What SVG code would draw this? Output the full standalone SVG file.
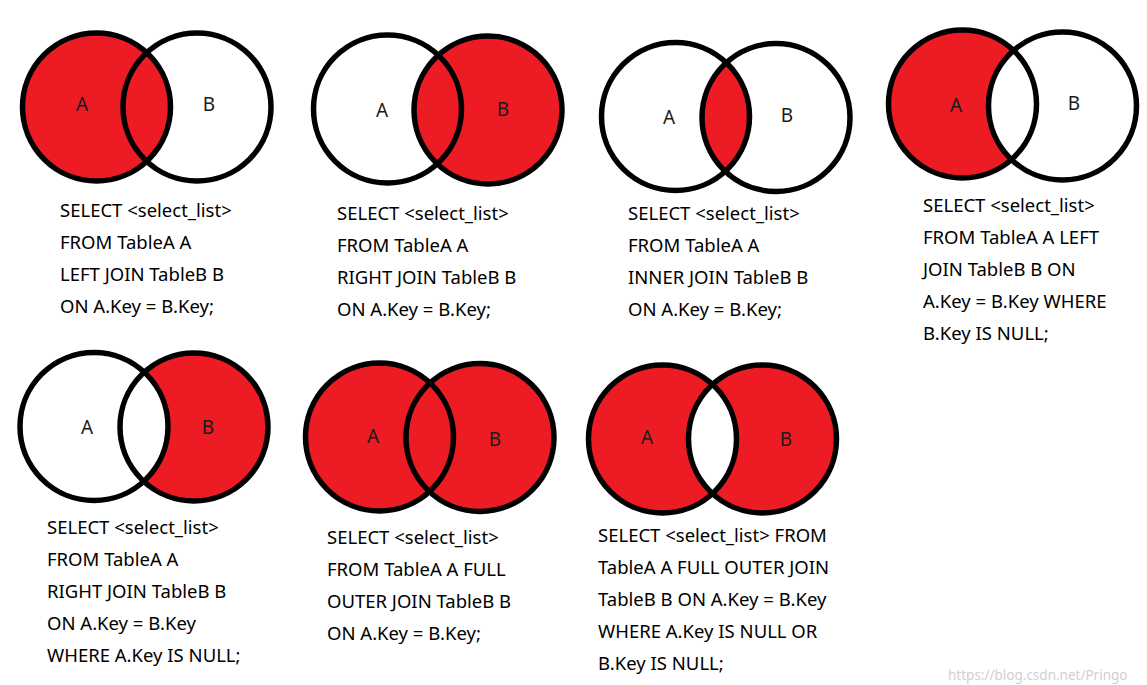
<svg xmlns="http://www.w3.org/2000/svg" width="1147" height="685" viewBox="0 0 1147 685">
<style>
.red{fill:#ED1C24}
.wht{fill:#ffffff}
.ring{fill:none;stroke:#000;stroke-width:5.5}
.lbl{font-family:"Noto Sans","Liberation Sans",sans-serif;font-size:19px;fill:#1a1a1a;text-anchor:middle;dominant-baseline:central}
.sql{font-family:"Noto Sans","Liberation Sans",sans-serif;font-size:18.5px;fill:#000}
.wm{font-family:"Noto Sans","Liberation Sans",sans-serif;font-size:13.5px;fill:#d0d0d0}
</style>
<defs>
<clipPath id="cB1"><circle cx="197" cy="107" r="74"/></clipPath>
<clipPath id="cB3"><circle cx="776" cy="117.5" r="74"/></clipPath>
<clipPath id="cB4"><circle cx="1062.5" cy="106" r="74"/></clipPath>
<clipPath id="cB5"><circle cx="194" cy="427" r="74"/></clipPath>
<clipPath id="cB7"><circle cx="762.5" cy="439" r="74"/></clipPath>
</defs>
<rect width="1147" height="685" fill="#fff"/>

<g id="left-join">
<circle class="red" cx="96.5" cy="107" r="74"/>
<circle class="ring" cx="96.5" cy="107" r="74"/>
<circle class="ring" cx="197" cy="107" r="74"/>
<text class="lbl" x="82" y="104">A</text>
<text class="lbl" x="209" y="104">B</text>
<text class="sql"><tspan x="60" y="217">SELECT &lt;select_list&gt;</tspan><tspan x="60" y="249">FROM TableA A</tspan><tspan x="60" y="281">LEFT JOIN TableB B</tspan><tspan x="60" y="313">ON A.Key = B.Key;</tspan></text>
</g>

<g id="right-join">
<circle class="red" cx="488" cy="110" r="74"/>
<circle class="ring" cx="387.5" cy="109" r="74"/>
<circle class="ring" cx="488" cy="110" r="74"/>
<text class="lbl" x="382" y="110">A</text>
<text class="lbl" x="503" y="109">B</text>
<text class="sql"><tspan x="337" y="220">SELECT &lt;select_list&gt;</tspan><tspan x="337" y="252">FROM TableA A</tspan><tspan x="337" y="284">RIGHT JOIN TableB B</tspan><tspan x="337" y="316">ON A.Key = B.Key;</tspan></text>
</g>

<g id="inner-join">
<circle class="red" cx="675.5" cy="116.5" r="74" clip-path="url(#cB3)"/>
<circle class="ring" cx="675.5" cy="116.5" r="74"/>
<circle class="ring" cx="776" cy="117.5" r="74"/>
<text class="lbl" x="669" y="117">A</text>
<text class="lbl" x="787" y="115">B</text>
<text class="sql"><tspan x="628" y="220">SELECT &lt;select_list&gt;</tspan><tspan x="628" y="252">FROM TableA A</tspan><tspan x="628" y="284">INNER JOIN TableB B</tspan><tspan x="628" y="316">ON A.Key = B.Key;</tspan></text>
</g>

<g id="left-only">
<circle class="red" cx="962.5" cy="104" r="74"/>
<circle class="wht" cx="962.5" cy="104" r="74" clip-path="url(#cB4)"/>
<circle class="ring" cx="962.5" cy="104" r="74"/>
<circle class="ring" cx="1062.5" cy="106" r="74"/>
<text class="lbl" x="956" y="105">A</text>
<text class="lbl" x="1074" y="103">B</text>
<text class="sql"><tspan x="923" y="212">SELECT &lt;select_list&gt;</tspan><tspan x="923" y="244">FROM TableA A LEFT</tspan><tspan x="923" y="276">JOIN TableB B ON</tspan><tspan x="923" y="308">A.Key = B.Key WHERE</tspan><tspan x="923" y="340">B.Key IS NULL;</tspan></text>
</g>

<g id="right-only">
<circle class="red" cx="194" cy="427" r="74"/>
<circle class="wht" cx="94" cy="426.5" r="74" clip-path="url(#cB5)"/>
<circle class="ring" cx="94" cy="426.5" r="74"/>
<circle class="ring" cx="194" cy="427" r="74"/>
<text class="lbl" x="87" y="427">A</text>
<text class="lbl" x="208" y="427">B</text>
<text class="sql"><tspan x="47" y="534">SELECT &lt;select_list&gt;</tspan><tspan x="47" y="566">FROM TableA A</tspan><tspan x="47" y="598">RIGHT JOIN TableB B</tspan><tspan x="47" y="630">ON A.Key = B.Key</tspan><tspan x="47" y="662">WHERE A.Key IS NULL;</tspan></text>
</g>

<g id="full-outer-join">
<circle class="red" cx="379.5" cy="437" r="74"/>
<circle class="red" cx="480" cy="437.5" r="74"/>
<circle class="ring" cx="379.5" cy="437" r="74"/>
<circle class="ring" cx="480" cy="437.5" r="74"/>
<text class="lbl" x="373" y="436">A</text>
<text class="lbl" x="495" y="439">B</text>
<text class="sql"><tspan x="327" y="544">SELECT &lt;select_list&gt;</tspan><tspan x="327" y="576">FROM TableA A FULL</tspan><tspan x="327" y="608">OUTER JOIN TableB B</tspan><tspan x="327" y="640">ON A.Key = B.Key;</tspan></text>
</g>

<g id="full-outer-exclusive">
<circle class="red" cx="662.5" cy="439" r="74"/>
<circle class="red" cx="762.5" cy="439" r="74"/>
<circle class="wht" cx="662.5" cy="439" r="74" clip-path="url(#cB7)"/>
<circle class="ring" cx="662.5" cy="439" r="74"/>
<circle class="ring" cx="762.5" cy="439" r="74"/>
<text class="lbl" x="647" y="437">A</text>
<text class="lbl" x="786" y="439">B</text>
<text class="sql"><tspan x="598" y="542">SELECT &lt;select_list&gt; FROM</tspan><tspan x="598" y="574">TableA A FULL OUTER JOIN</tspan><tspan x="598" y="606">TableB B ON A.Key = B.Key</tspan><tspan x="598" y="638">WHERE A.Key IS NULL OR</tspan><tspan x="598" y="670">B.Key IS NULL;</tspan></text>
</g>

<g id="connectors"></g>

<text class="wm" x="948" y="680">https://blog.csdn.net/Pringo</text>
</svg>
